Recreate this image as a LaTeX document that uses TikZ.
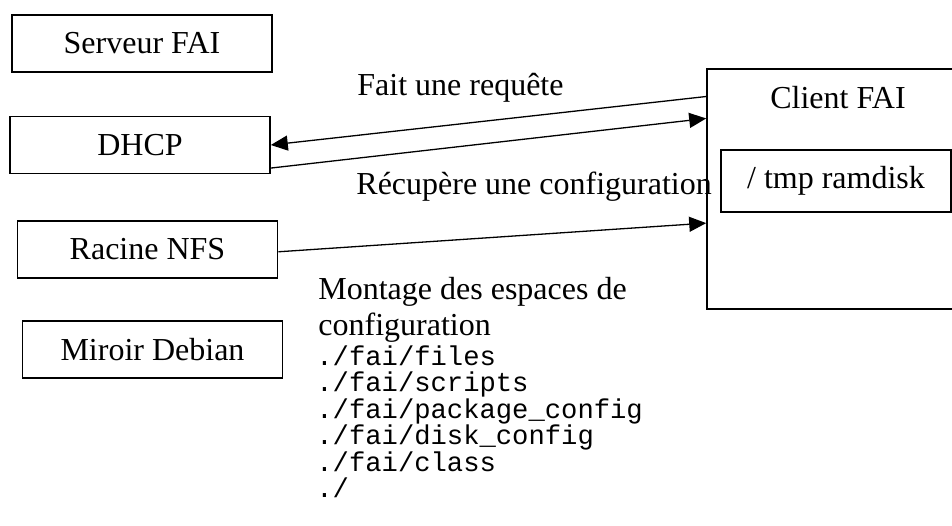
\documentclass[tikz,border=0pt]{standalone}
\usepackage{fontspec}
\setmainfont{Liberation Serif}
\setmonofont{Liberation Mono}
\usetikzlibrary{arrows.meta}
\tikzset{
	srvbox/.style={draw, line width=0.8pt, minimum width=130pt, minimum height=28.5pt, font=\fontsize{16pt}{18pt}\selectfont},
	lbl/.style={anchor=base west, inner sep=0pt, font=\fontsize{16pt}{18pt}\selectfont},
	cfgpath/.style={anchor=base west, inner sep=0pt, font=\ttfamily\fontsize{13.6pt}{13.25pt}\selectfont},
	flow/.style={line width=0.65pt, -{Triangle[length=8.5pt,width=7.5pt]}}
}
\begin{document}
\begin{tikzpicture}[x=0.5pt,y=-0.5pt]
	\useasboundingbox (0,0) rectangle (952,525);
	\node[srvbox] (serveur) at (142,43.5) {Serveur FAI};
	\node[srvbox] (dhcp) at (140,145) {DHCP};
	\node[srvbox] (nfs) at (147.5,249.5) {Racine NFS};
	\node[srvbox] (miroir) at (152.5,349.5) {Miroir Debian};
	\node[draw, line width=0.8pt, minimum width=126.5pt, minimum height=120pt] (client) at (833.5,189) {};
	\node[lbl, anchor=base] (clienttitle) at (838,108) {Client FAI};
	\node[srvbox, minimum width=115pt, minimum height=31pt] (ramdisk) at (836,181) {/ tmp ramdisk};
	\draw[flow] (client.144.3) -- (dhcp.east);
	\draw[flow] (dhcp.-10) -- (client.151.7);
	\draw[flow] (nfs.-1) -- (client.195);
	\node[lbl] (requete) at (357,95) {Fait une requête};
	\node[lbl] (recupere) at (356,194) {Récupère une configuration};
	\node[lbl] (montage) at (318,299) {Montage des espaces de};
	\node[lbl] (montagesuite) at (318,335) {configuration};
	\foreach \p [count=\i] in {./fai/files, ./fai/scripts, ./fai/package\_config, ./fai/disk\_config, ./fai/class, ./}
		\node[cfgpath] (path\i) at (316,{365+26.5*(\i-1)}) {\p};
\end{tikzpicture}
\end{document}
